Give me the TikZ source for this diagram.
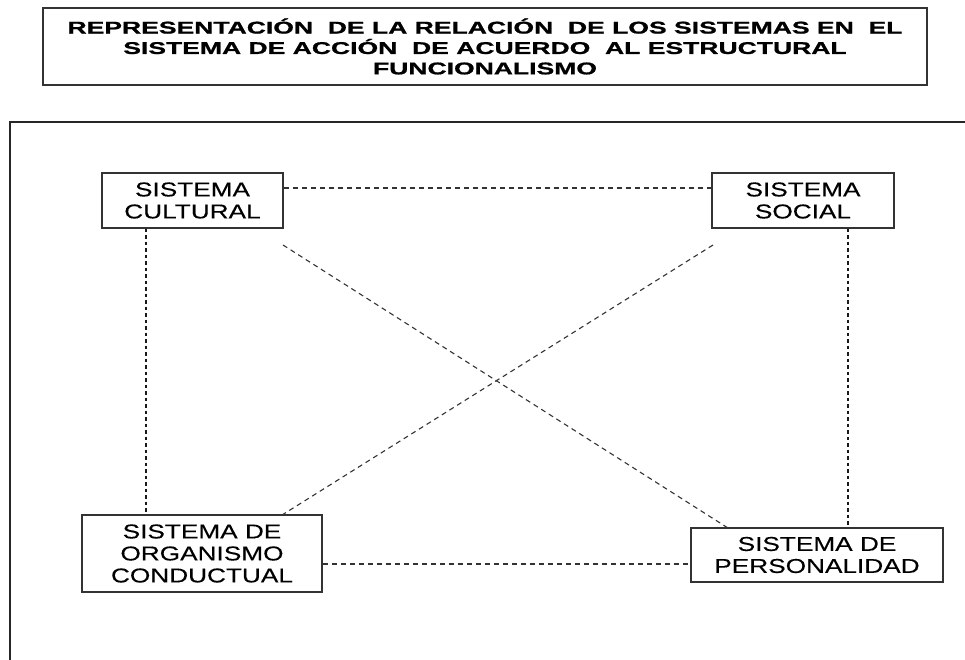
\documentclass[tikz,border=0pt]{standalone}
\usepackage{fontspec}
\setmainfont{Liberation Sans}[FakeStretch=1.31,FakeBold=0.3]
\newfontfamily\titlefont{Liberation Sans}[FakeStretch=1.56,FakeBold=1]
\begin{document}
\begin{tikzpicture}[x=1pt,y=-1pt,
  sysbox/.style={draw=black!80, line width=1.2pt, fill=white, align=center,
    font=\fontsize{20}{22}\selectfont, inner sep=0pt},
  link/.style={draw=black!80, line width=1.1pt, dash pattern=on 5pt off 4pt},
  vlink/.style={draw=black!90, line width=1.1pt, dash pattern=on 3.5pt off 3pt}]
\useasboundingbox (0,0) rectangle (965,660);
\clip (0,0) rectangle (965,660);
\node[draw=black!80, line width=1.2pt, minimum width=884pt, minimum height=77pt,
  inner sep=0pt, align=center,
  font=\titlefont\bfseries\fontsize{17}{20.4}\selectfont] (title) at (485,46.5)
  {REPRESENTACIÓN\ \ DE LA RELACIÓN\ \ DE LOS SISTEMAS EN\ \ EL\\
   SISTEMA DE ACCIÓN\ \ DE ACUERDO\ \ AL ESTRUCTURAL\\
   FUNCIONALISMO};
\draw[line width=1.3pt, black!85] (10,122) rectangle (980,680);
\node[sysbox, minimum width=181pt, minimum height=55pt] (cult) at (192.5,200.5) {SISTEMA\\CULTURAL};
\node[sysbox, minimum width=182pt, minimum height=55pt] (soc) at (803,200.5) {SISTEMA\\SOCIAL};
\node[sysbox, minimum width=240pt, minimum height=77pt] (org) at (202,553.5) {SISTEMA DE\\ORGANISMO\\CONDUCTUAL};
\node[sysbox, minimum width=252pt, minimum height=54pt] (pers) at (817,555) {SISTEMA DE\\PERSONALIDAD};
\coordinate (d1) at (283,245);
\coordinate (d2) at (713,245);
\draw[link] ([yshift=12.5pt]cult.east) -- ([yshift=12.5pt]cult.east -| soc.west);
\draw[vlink] ([xshift=-46.5pt]cult.south) -- ([xshift=-46.5pt]cult.south |- org.north);
\draw[vlink] ([xshift=45pt]soc.south) -- ([xshift=45pt]soc.south |- pers.north);
\draw[link] ([yshift=-10.5pt]org.east) -- ([yshift=-10.5pt]org.east -| pers.west);
\draw[link] (d1) -- ([xshift=-90pt]pers.north);
\draw[link] (d2) -- ([xshift=81pt]org.north);
\end{tikzpicture}
\end{document}
